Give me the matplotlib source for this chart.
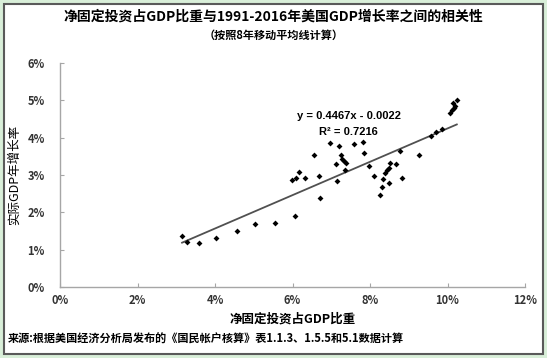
import matplotlib
matplotlib.use("Agg")
import matplotlib.pyplot as plt
from matplotlib.patches import Rectangle
import numpy as np

plt.rcParams['font.family'] = ['Noto Sans CJK SC', 'DejaVu Sans']

title = "净固定投资占GDP比重与1991-2016年美国GDP增长率之间的相关性"
subtitle = "（按照8年移动平均线计算）"
xlabel = "净固定投资占GDP比重"
ylabel = "实际GDP年增长率"
source = "来源:根据美国经济分析局发布的《国民帐户核算》表1.1.3、1.5.5和5.1数据计算"
eq_text = "y = 0.4467x - 0.0022"
r2_text = "R² = 0.7216"
slope = 0.4467
intercept = -0.0022

invest_share = [3.15, 3.29, 3.59, 4.02, 4.57, 5.04, 5.55, 6.06, 5.98, 6.08,
                6.17, 6.32, 6.55, 6.68, 6.71, 6.96, 7.11, 7.15, 7.20, 7.24,
                7.28, 7.33, 7.38, 7.35, 7.59, 7.81, 7.84, 7.97, 8.10, 8.25,
                8.30, 8.34, 8.39, 8.45, 8.49, 8.52, 8.49, 8.67, 8.77, 8.83,
                9.26, 9.57, 9.70, 9.85, 10.07, 10.11, 10.16, 10.20, 10.13, 10.24]
gdp_growth = [1.37, 1.21, 1.19, 1.32, 1.51, 1.68, 1.72, 1.91, 2.86, 2.91,
              3.07, 2.92, 3.54, 2.97, 2.38, 3.87, 3.30, 2.84, 3.79, 3.54,
              3.42, 3.38, 3.32, 3.13, 3.84, 3.88, 3.59, 3.25, 2.96, 2.47,
              2.68, 2.89, 3.06, 3.13, 3.18, 3.33, 2.78, 3.30, 3.65, 2.93,
              3.54, 4.04, 4.14, 4.24, 4.67, 4.73, 4.79, 4.84, 4.93, 5.00]
xticks = [0, 2, 4, 6, 8, 10, 12]
yticks = [0, 1, 2, 3, 4, 5, 6]

fig = plt.figure(figsize=(5.47, 3.58), dpi=100)
fig.patch.set_facecolor('#d9efd9')
fig.patches.append(Rectangle((4/547, 4/358), 539/547, 350/358, transform=fig.transFigure,
                             facecolor='white', edgecolor='#5a5a5a', linewidth=1.5, zorder=-5))

ax = fig.add_axes([60/547, 1-287/358, 465/547, 224/358])
ax.set_zorder(2)
ax.set_facecolor('none')
x = np.array(invest_share) / 100
y = np.array(gdp_growth) / 100
ax.scatter(x, y, marker='D', s=9, color='black', zorder=3, linewidths=0)
xl = np.array([min(x), max(x)])
ax.plot(xl, slope * xl + intercept, color='#505050', linewidth=1.3, zorder=2)

ax.set_xlim(0, 0.12)
ax.set_ylim(0, 0.06)
ax.set_xticks([t / 100 for t in xticks])
ax.set_yticks([t / 100 for t in yticks])
ax.set_xticklabels([f"{t}%" for t in xticks], fontsize=8, fontweight='bold', color='#333333')
ax.set_yticklabels([f"{t}%" for t in yticks], fontsize=8, fontweight='bold', color='#333333')
for s in ['top', 'right']:
    ax.spines[s].set_visible(False)
for s in ['left', 'bottom']:
    ax.spines[s].set_color('#a6a6a6')
    ax.spines[s].set_linewidth(1.0)
ax.tick_params(axis='both', direction='in', length=3, color='#a6a6a6')
ax.tick_params(axis='x', pad=5)
ax.tick_params(axis='y', pad=11)

ax.text(0.0745, 0.0458, eq_text, fontsize=8, fontweight='bold', ha='center', va='center', family=['Liberation Sans', 'DejaVu Sans'])
ax.text(0.0745, 0.0448 - 0.0033, r2_text, fontsize=8, fontweight='bold', ha='center', va='center', family=['Liberation Sans', 'DejaVu Sans'])

fig.text(0.5, 1-17/358, title, fontsize=10, fontweight='bold', ha='center', va='center')
fig.text(0.5, 1-35/358, subtitle, fontsize=8, fontweight='bold', ha='center', va='center')
fig.text(293/547, 1-319/358, xlabel, fontsize=9, fontweight='bold', ha='center', va='center')
fig.text(14/547, 1-175/358, ylabel, fontsize=9, ha='center', va='center', rotation=90)
fig.text(8/547, 1-339/358, source, fontsize=8, fontweight='bold', ha='left', va='center')

fig.savefig('out.png', dpi=100, facecolor=fig.get_facecolor())
